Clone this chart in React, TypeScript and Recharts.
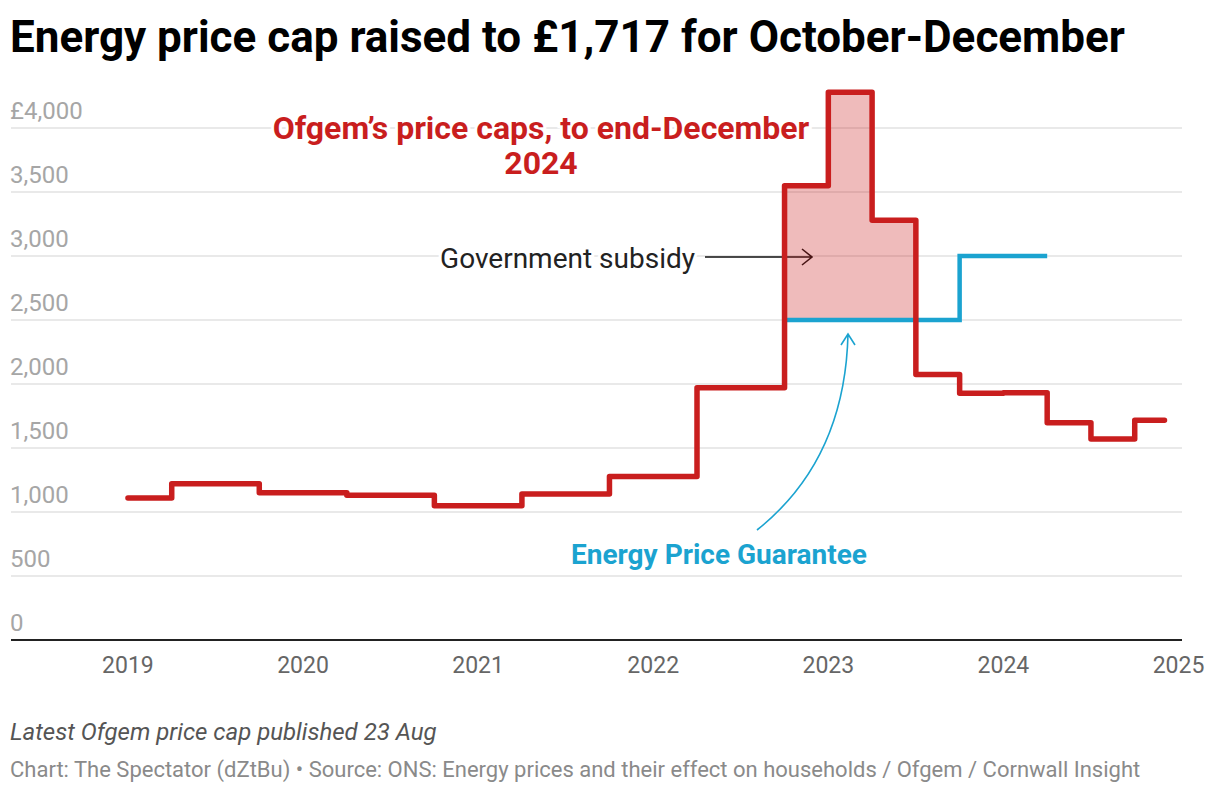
import React from "react";
import {
  ComposedChart, Line, Area, XAxis, YAxis, CartesianGrid, Customized
} from "recharts";

// dates as decimal years, values in £
const capDates = [2019.0, 2019.25, 2019.75, 2020.25, 2020.75, 2021.25, 2021.75, 2022.25, 2022.75, 2023.0, 2023.25, 2023.5, 2023.75, 2024.0, 2024.25, 2024.5, 2024.75, 2024.92];
const capValues = [1110, 1220, 1150, 1130, 1049, 1140, 1278, 1971, 3549, 4279, 3280, 2074, 1927, 1932, 1698, 1570, 1717, 1717];

const epgDates = [2022.75, 2023.75, 2024.25];
const epgValues = [2500, 3000, 3000];

const subsidyDates = [2022.75, 2023.0, 2023.25, 2023.5];
const yearTicks = [2019, 2020, 2021, 2022, 2023, 2024, 2025];
const valueTicks = [0, 500, 1000, 1500, 2000, 2500, 3000, 3500, 4000];

const RED = "#c91e1e";
const BLUE = "#1ba3d0";

const capData = capDates.map((d, i) => ({ date: d, cap: capValues[i] }));
const epgData = epgDates.map((d, i) => ({ date: d, epg: epgValues[i] }));
const subsidyData = subsidyDates.map((d) => {
  const c = capValues[capDates.indexOf(d)];
  return { date: d, band: [2500, c] };
});

const renderYTick = (props: any) => {
  const { x, y, payload } = props;
  const v = payload.value;
  const label = v === 4000 ? "£4,000" : v.toLocaleString("en-GB");
  return (
    <text x={x - 1} y={y - 9} textAnchor="start" fill="#a6a6a6" fontSize={24} fontFamily="Roboto">
      {label}
    </text>
  );
};

const Annotations = () => (
  <g fontFamily="Roboto">
    <text x={541} y={139} textAnchor="middle" fill={RED} fontSize={32} fontWeight="bold"
      stroke="#fff" strokeWidth={6} paintOrder="stroke">
      Ofgem’s price caps, to end-December
    </text>
    <text x={541} y={174} textAnchor="middle" fill={RED} fontSize={32} fontWeight="bold"
      stroke="#fff" strokeWidth={6} paintOrder="stroke">
      2024
    </text>
    <text x={695} y={268} textAnchor="end" fill="#222" fontSize={28}
      stroke="#fff" strokeWidth={6} paintOrder="stroke">
      Government subsidy
    </text>
    <path d="M705,257 L812,257 M802,249 L812,257 L802,265" stroke="#111" strokeWidth={1.6} fill="none" />
    <text x={719} y={564} textAnchor="middle" fill={BLUE} fontSize={28} fontWeight="bold">
      Energy Price Guarantee
    </text>
    <path d="M757,530 Q845,460 848,334 M841,345 L848,334 L855,345" stroke={BLUE} strokeWidth={1.6} fill="none" />
  </g>
);

export default function App() {
  return (
    <div style={{ position: "absolute", left: 0, top: 0, width: 1220, height: 794, background: "#fff", fontFamily: "Roboto" }}>
      <div style={{ position: "absolute", left: 10, top: 11, fontSize: 44, fontWeight: 700, color: "#000", whiteSpace: "nowrap" }}>
        Energy price cap raised to £1,717 for October-December
      </div>
      <div style={{ position: "absolute", left: 0, top: 0 }}>
        <ComposedChart width={1220} height={700} margin={{ top: 76.8, right: 38, bottom: 30, left: 10 }}>
          <CartesianGrid
            horizontal
            vertical={false}
            horizontalValues={valueTicks.slice(1)}
            syncWithTicks={false}
            stroke="#e2e2e2"
            strokeWidth={1.5}
          />
          <XAxis
            dataKey="date"
            type="number"
            domain={[2018.332, 2025.02]}
            ticks={yearTicks}
            allowDuplicatedCategory={false}
            tickLine={false}
            axisLine={{ stroke: "#222", strokeWidth: 2 }}
            tick={{ fill: "#666", fontSize: 23, fontFamily: "Roboto" }}
            tickMargin={11}
            height={30}
          />
          <YAxis
            type="number"
            domain={[0, 4400]}
            ticks={valueTicks}
            interval={0}
            width={1}
            axisLine={false}
            tickLine={false}
            tickSize={0}
            tickMargin={0}
            tick={renderYTick}
          />
          <Area
            data={subsidyData}
            dataKey="band"
            type="stepAfter"
            stroke="none"
            fill={RED}
            fillOpacity={0.3}
            isAnimationActive={false}
          />
          <Line
            data={epgData}
            dataKey="epg"
            type="stepAfter"
            stroke={BLUE}
            strokeWidth={4.5}
            dot={false}
            isAnimationActive={false}
          />
          <Line
            data={capData}
            dataKey="cap"
            type="stepAfter"
            stroke={RED}
            strokeWidth={5.5}
            strokeLinejoin="round"
            strokeLinecap="round"
            dot={false}
            isAnimationActive={false}
          />
          <Customized component={Annotations} />
        </ComposedChart>
      </div>
      <div style={{ position: "absolute", left: 10, top: 718, fontSize: 24, fontStyle: "italic", color: "#555", whiteSpace: "nowrap" }}>
        Latest Ofgem price cap published 23 Aug
      </div>
      <div style={{ position: "absolute", left: 10, top: 757, fontSize: 22, color: "#8a8a8a", whiteSpace: "nowrap" }}>
        Chart: The Spectator (dZtBu) • Source: ONS: Energy prices and their effect on households / Ofgem / Cornwall Insight
      </div>
    </div>
  );
}
